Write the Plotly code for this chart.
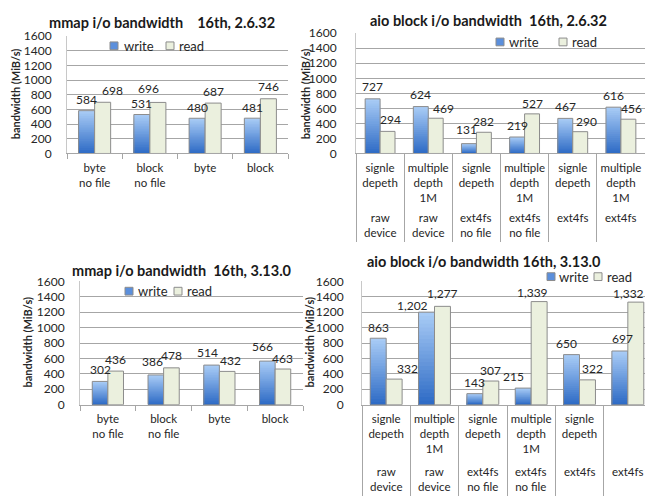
import plotly.graph_objects as go

W, H = 645, 497

# ---- data -----------------------------------------------------------------
mmap_cats = ["byte<br>no file", "block<br>no file", "byte", "block"]
mmap_2632_write = [584, 531, 480, 481]
mmap_2632_read = [698, 696, 687, 746]
mmap_3130_write = [302, 386, 514, 566]
mmap_3130_read = [436, 478, 432, 463]

aio_modes = ["signle<br>depeth", "multiple<br>depth<br>1M",
             "signle<br>depeth", "multiple<br>depth<br>1M",
             "signle<br>depeth", "multiple<br>depth<br>1M"]
aio_targets = ["raw<br>device", "raw<br>device", "ext4fs<br>no file",
               "ext4fs<br>no file", "ext4fs", "ext4fs"]
aio_2632_write = [727, 624, 131, 219, 467, 616]
aio_2632_read = [294, 469, 282, 527, 290, 456]
aio_3130_write = [863, 1202, 143, 215, 650, 697]
aio_3130_read = [332, 1277, 307, 1339, 322, 1332]

series_names = ["write", "read"]
y_ticks = [0, 200, 400, 600, 800, 1000, 1200, 1400, 1600]

# ---- style ----------------------------------------------------------------
FONT = "Lato"
TXT = "#262626"
GRID = "#a6a6a6"
EDGE = "#8c8c8c"
BLUE_TOP = (168, 203, 245)
BLUE_BOT = (47, 108, 198)
BLUE_KEY = "#5b8fdc"
READ_FILL = "#ebf0de"
N_SHADES = 24
NB = "\u00a0"


def px_x(p):
    return p / W


def px_y(p):
    return 1 - p / H


def shade(t):
    r, g, b = (round(a + (c - a) * t) for a, c in zip(BLUE_TOP, BLUE_BOT))
    return f"rgb({r},{g},{b})"


panels = [
    dict(n="", title="mmap i/o bandwidth" + NB * 4 + "16th, 2.6.32",
         cats=mmap_cats, sub=None, write=mmap_2632_write, read=mmap_2632_read,
         fmt="{:d}", xd=(67, 288), yd=(29, 150), xr=(-0.5, 3.5), bw=0.29,
         title_xy=(162, 15), ytitle_xy=(15, 89),
         keys=((110, 122), (166, 177)), key_y=39,
         wdx=[0, 0, 0, 0], rdx=[10, -9, 0, 0],
         wdy=[11, 11, 11, 11], rdy=[12, 14, 12, 12], sep=5, standoff=12),
    dict(n="2", title="aio block i/o bandwidth" + NB * 2 + "16th, 2.6.32",
         cats=aio_modes, sub=aio_targets, write=aio_2632_write, read=aio_2632_read,
         fmt="{:d}", xd=(356, 645), yd=(26, 150), xr=(-0.5, 5.5), bw=0.31,
         title_xy=(489, 13), ytitle_xy=(305, 89),
         keys=((496, 507), (559, 570)), key_y=35,
         wdx=[0, 0, -2, 0, 0, 0], rdx=[3, 8, 0, 0, 6, 3],
         wdy=[12, 12, 14, 12, 12, 12], rdy=[12, 10, 11, 10, 10, 11],
         sep=88, sub_y=207, standoff=16),
    dict(n="3", title="mmap i/o bandwidth" + NB * 2 + "16th, 3.13.0",
         cats=mmap_cats, sub=None, write=mmap_3130_write, read=mmap_3130_read,
         fmt="{:d}", xd=(80, 303), yd=(282, 409), xr=(-0.5, 3.5), bw=0.28,
         title_xy=(182, 271), ytitle_xy=(28, 345),
         keys=((125, 136), (174, 185)), key_y=292,
         wdx=[0, -3, -4, -5], rdx=[0, 0, 3, 0],
         wdy=[12, 13, 13, 15], rdy=[12, 12, 11, 11], sep=5, standoff=12),
    dict(n="4", title="aio block i/o bandwidth 16th, 3.13.0",
         cats=aio_modes, sub=aio_targets, write=aio_3130_write, read=aio_3130_read,
         fmt="{:,}", xd=(362, 645), yd=(282, 409), xr=(-0.5, 5.355), bw=0.33,
         title_xy=(484, 261), ytitle_xy=(310, 345),
         keys=((547, 557), (594, 605)), key_y=277,
         wdx=[0, -14, 0, -10, -5, 3], rdx=[13, 0, 0, -7, 5, -7],
         wdy=[11, 7, 11, 12, 11, 12], rdy=[11, 13, 11, 9, 11, 9],
         sep=90, sub_y=469, standoff=15),
]

fig = go.Figure()
annotations = []
shapes = []
layout = {}

for p in panels:
    n = p["n"]
    xref, yref = "x" + n, "y" + n
    idx = list(range(len(p["cats"])))
    bw = p["bw"]

    # write bars: overlapping shades, light at the top, dark at the base
    for k in range(N_SHADES):
        frac = 1 - k / N_SHADES
        fig.add_trace(go.Bar(
            x=idx, y=[v * frac for v in p["write"]], width=bw, offset=-bw,
            marker=dict(color=shade(k / (N_SHADES - 1)), line_width=0),
            name=series_names[0], showlegend=False, hoverinfo="skip",
            xaxis=xref, yaxis=yref))
    # write outline
    fig.add_trace(go.Bar(
        x=idx, y=p["write"], width=bw, offset=-bw,
        marker=dict(color="rgba(0,0,0,0)", line=dict(color=EDGE, width=1)),
        name=series_names[0], showlegend=False, xaxis=xref, yaxis=yref))
    # read bars
    fig.add_trace(go.Bar(
        x=idx, y=p["read"], width=bw, offset=0,
        marker=dict(color=READ_FILL, line=dict(color=EDGE, width=1)),
        name=series_names[1], showlegend=False, xaxis=xref, yaxis=yref))

    # legend keys: small swatch plus label
    ky = p["key_y"]
    for (sx, tx), name, fill in zip(p["keys"], series_names, (BLUE_KEY, READ_FILL)):
        shapes.append(dict(type="rect", xref="paper", yref="paper",
                           x0=px_x(sx), x1=px_x(sx + 8), y0=px_y(ky + 4), y1=px_y(ky - 4),
                           fillcolor=fill, line=dict(color=EDGE, width=1)))
        annotations.append(dict(
            x=px_x(tx), y=px_y(ky), xref="paper", yref="paper", text=name,
            showarrow=False, xanchor="left", yanchor="middle",
            font=dict(family=FONT, size=13, color=TXT)))

    # value labels
    for i, (wv, rv) in enumerate(zip(p["write"], p["read"])):
        for val, xc, dx, dy in ((wv, i - bw / 2, p["wdx"][i], p["wdy"][i]),
                                (rv, i + bw / 2, p["rdx"][i], p["rdy"][i])):
            annotations.append(dict(
                x=xc, y=val, xref=xref, yref=yref, text=p["fmt"].format(val),
                showarrow=False, xshift=dx, yshift=dy, yanchor="middle",
                font=dict(family=FONT, size=12, color=TXT)))

    # second-level category labels
    if p["sub"]:
        for i, s in enumerate(p["sub"]):
            annotations.append(dict(
                x=i, y=px_y(p["sub_y"]), xref=xref, yref="paper", text=s,
                showarrow=False, yanchor="top",
                font=dict(family=FONT, size=11.5, color=TXT)))

    # chart title
    tx, ty = p["title_xy"]
    annotations.append(dict(
        x=px_x(tx), y=px_y(ty), xref="paper", yref="paper", text="<b>%s</b>" % p["title"],
        showarrow=False, xanchor="center", yanchor="middle",
        font=dict(family=FONT, size=14.5, color="#1a1a1a")))
    # y axis title
    ax_, ay_ = p["ytitle_xy"]
    annotations.append(dict(
        x=px_x(ax_), y=px_y(ay_), xref="paper", yref="paper",
        text="<b>bandwidth (MiB/s)</b>", textangle=-90, showarrow=False,
        xanchor="center", yanchor="middle",
        font=dict(family=FONT, size=11, color=TXT)))

    layout["xaxis" + n] = dict(
        domain=[px_x(p["xd"][0]), min(1.0, px_x(p["xd"][1]))],
        range=list(p["xr"]), anchor=yref, tickmode="array", tickvals=idx,
        ticktext=p["cats"], ticks="", showgrid=False, zeroline=False,
        showline=True, linecolor=GRID, linewidth=1, ticklabelstandoff=4,
        tickfont=dict(family=FONT, size=11.5, color=TXT),
        minor=dict(tickmode="array", tickvals=[i - 0.5 for i in range(len(idx) + 1)],
                   ticks="outside", ticklen=p["sep"], tickcolor=GRID, tickwidth=1,
                   showgrid=False),
        fixedrange=True)
    layout["yaxis" + n] = dict(
        domain=[px_y(p["yd"][1]), px_y(p["yd"][0])], range=[0, 1600],
        anchor=xref, tickmode="array", tickvals=y_ticks, ticks="",
        showgrid=True, gridcolor=GRID, gridwidth=1, zeroline=False,
        showline=True, linecolor="#c8c8c8", linewidth=1,
        ticklabelstandoff=p["standoff"],
        tickfont=dict(family=FONT, size=12, color=TXT), fixedrange=True)

fig.update_layout(
    width=W, height=H, margin=dict(l=0, r=0, t=0, b=0),
    paper_bgcolor="white", plot_bgcolor="white", barmode="overlay",
    showlegend=False, annotations=annotations, shapes=shapes,
    font=dict(family=FONT, color=TXT), **layout)

fig.write_html("out.html")
